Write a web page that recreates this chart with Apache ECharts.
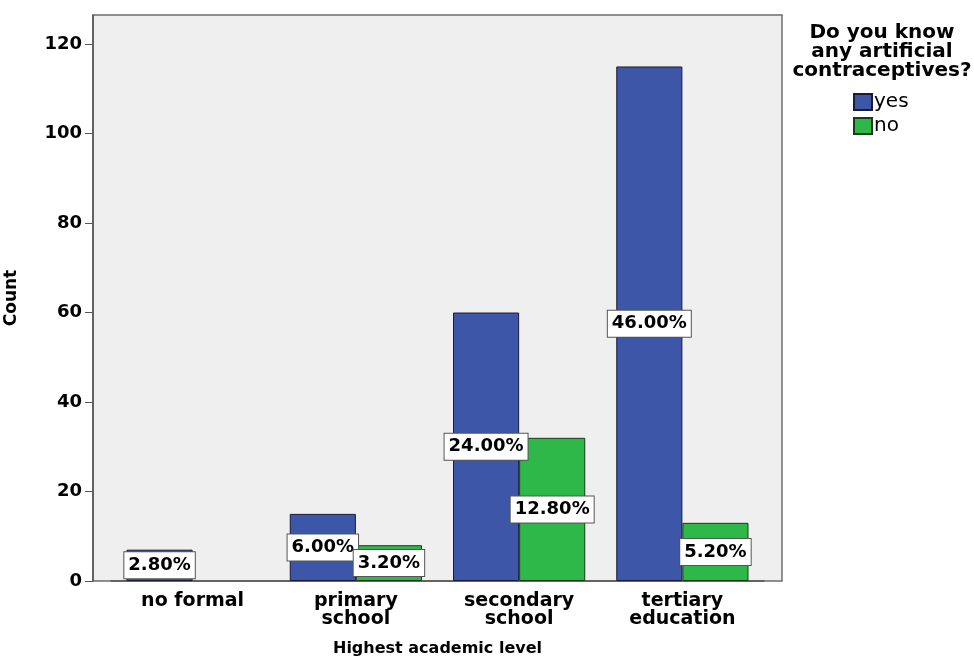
<!DOCTYPE html>
<html>
<head>
<meta charset="utf-8">
<script src="https://cdn.jsdelivr.net/npm/echarts@6/dist/echarts.min.js"></script>
<style>
  html, body { margin: 0; padding: 0; background: #ffffff; }
  #chart { width: 974px; height: 659px; }
</style>
</head>
<body>
<div id="chart"></div>
<script>
// Education levels and counts of respondents who know / do not know artificial contraceptives
const categories = ['no formal', 'primary\nschool', 'secondary\nschool', 'tertiary\neducation'];
const yesCounts = [7, 15, 60, 115];
const noCounts = [0, 8, 32, 13];
const totalRespondents = 250;
const yTicks = [0, 20, 40, 60, 80, 100, 120];

const FONT = '"DejaVu Sans", Arial, sans-serif';

const pctLabel = {
  show: true,
  position: 'inside',
  formatter: p => (p.value / totalRespondents * 100).toFixed(2) + '%',
  color: '#000',
  fontFamily: FONT,
  fontWeight: 'bold',
  fontSize: 18,
  lineHeight: 19,
  backgroundColor: '#ffffff',
  borderColor: '#555555',
  borderWidth: 1,
  padding: [4, 4, 3, 4]
};

const chart = echarts.init(document.getElementById('chart'), null, { renderer: 'canvas' });
chart.setOption({
  animation: false,
  backgroundColor: '#ffffff',
  graphic: [{
    type: 'rect',
    z: -1,
    shape: { x: 93, y: 15, width: 689, height: 566 },
    style: { fill: '#efefef', stroke: '#6e6e6e', lineWidth: 1.5 }
  }],
  title: {
    text: 'Do you know\nany artificial\ncontraceptives?',
    left: 877,
    top: 18,
    textAlign: 'center',
    textStyle: { fontFamily: FONT, fontWeight: 'bold', fontSize: 20, lineHeight: 19, color: '#000' }
  },
  legend: {
    orient: 'vertical',
    left: 848,
    top: 87,
    itemWidth: 18,
    itemHeight: 16,
    itemGap: 4,
    icon: 'rect',
    textStyle: { fontFamily: FONT, fontSize: 20, color: '#000', padding: [0, 0, 0, -3] },
    data: ['yes', 'no']
  },
  grid: { left: 111, right: 210, top: 15, bottom: 78, outerBoundsMode: 'none' },
  xAxis: {
    type: 'category',
    data: categories,
    name: 'Highest academic level',
    nameLocation: 'middle',
    nameGap: 60,
    nameTextStyle: { fontFamily: FONT, fontWeight: 'bold', fontSize: 16, color: '#000' },
    axisLine: { lineStyle: { color: '#555', width: 1.5 } },
    axisTick: { alignWithLabel: true, length: 8, lineStyle: { color: '#555' } },
    axisLabel: { fontFamily: FONT, fontWeight: 'bold', fontSize: 19, lineHeight: 18, color: '#000', margin: 11 }
  },
  yAxis: {
    type: 'value',
    min: 0,
    max: 126.5,
    interval: 20,
    offset: 18,
    name: 'Count',
    nameLocation: 'middle',
    nameGap: 73,
    nameTextStyle: { fontFamily: FONT, fontWeight: 'bold', fontSize: 17, color: '#000' },
    splitLine: { show: false },
    axisLine: { show: true, lineStyle: { color: '#555', width: 1.5 } },
    axisTick: { show: true, length: 8, customValues: yTicks, lineStyle: { color: '#555' } },
    axisLabel: {
      customValues: yTicks,
      fontFamily: FONT, fontWeight: 'bold', fontSize: 18, color: '#000', margin: 11
    }
  },
  series: [
    {
      name: 'yes',
      type: 'bar',
      data: yesCounts,
      barGap: '0%',
      barCategoryGap: '19%',
      itemStyle: { color: '#3d56a8', borderColor: '#1a1a3a', borderWidth: 1 },
      label: pctLabel
    },
    {
      name: 'no',
      type: 'bar',
      data: noCounts.map(v => (v === 0 ? null : v)),
      itemStyle: { color: '#2fb84a', borderColor: '#1a3a1a', borderWidth: 1 },
      label: pctLabel
    }
  ]
});
</script>
</body>
</html>
